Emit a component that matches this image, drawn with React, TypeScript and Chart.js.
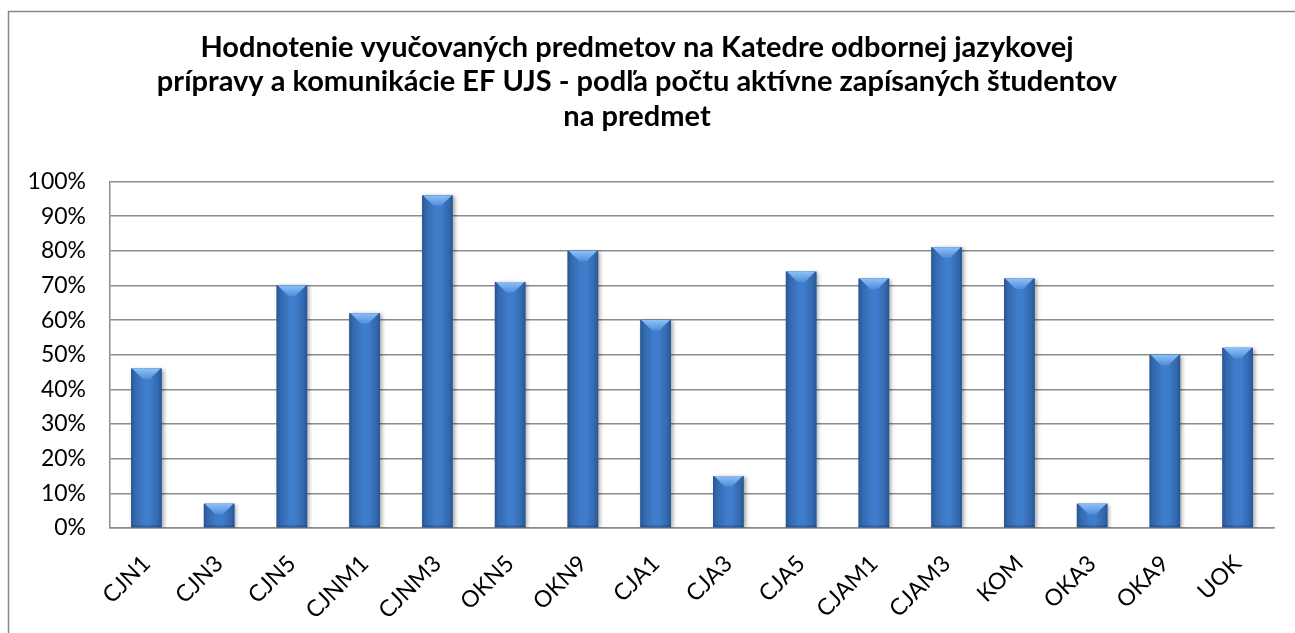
import React, { useEffect, useRef } from "react";
import { Chart, registerables } from "chart.js";

Chart.register(...registerables);

const categories = ["CJN1", "CJN3", "CJN5", "CJNM1", "CJNM3", "OKN5", "OKN9", "CJA1", "CJA3", "CJA5", "CJAM1", "CJAM3", "KOM", "OKA3", "OKA9", "UOK"];
const values = [46, 7, 70, 62, 96, 71, 80, 60, 15, 74, 72, 81, 72, 7, 50, 52];
const titleLines = [
  "Hodnotenie vyučovaných predmetov na Katedre odbornej jazykovej",
  "prípravy a komunikácie EF UJS - podľa počtu aktívne zapísaných študentov",
  "na predmet",
];
const yTicks = [0, 10, 20, 30, 40, 50, 60, 70, 80, 90, 100];

const FONT = "Lato, 'Open Sans', sans-serif";

const framePlugin = {
  id: "frame",
  beforeDraw(chart: any) {
    const ctx = chart.ctx;
    ctx.save();
    ctx.fillStyle = "#ffffff";
    ctx.fillRect(0, 0, chart.width, chart.height);
    ctx.strokeStyle = "#878787";
    ctx.lineWidth = 1.5;
    ctx.beginPath();
    ctx.moveTo(8.5, chart.height + 2);
    ctx.lineTo(8.5, 11.5);
    ctx.lineTo(chart.width + 2, 11.5);
    ctx.stroke();
    ctx.restore();
  },
};

const bevelPlugin = {
  id: "bevel",
  beforeDatasetDraw(chart: any) {
    const ctx = chart.ctx;
    ctx.save();
    ctx.shadowColor = "rgba(0,0,0,0.35)";
    ctx.shadowBlur = 4;
    ctx.shadowOffsetX = 2;
    ctx.shadowOffsetY = 1;
  },
  afterDatasetDraw(chart: any, args: any) {
    const ctx = chart.ctx;
    ctx.restore();
    const meta = chart.getDatasetMeta(args.index);
    ctx.save();
    meta.data.forEach((bar: any) => {
      const w = bar.width;
      const left = bar.x - w / 2;
      const right = bar.x + w / 2;
      const top = bar.y;
      const bottom = bar.base;
      const g = ctx.createLinearGradient(left, 0, right, 0);
      g.addColorStop(0, "#28558f");
      g.addColorStop(0.12, "#3368ae");
      g.addColorStop(0.45, "#3f7dcc");
      g.addColorStop(0.6, "#3f7dcc");
      g.addColorStop(0.88, "#3368ae");
      g.addColorStop(1, "#28558f");
      ctx.fillStyle = g;
      ctx.fillRect(left, top, w, bottom - top);
      const depth = Math.min(w * 0.34, bottom - top);
      const tg = ctx.createLinearGradient(0, top, 0, top + depth);
      tg.addColorStop(0, "#8ec0f7");
      tg.addColorStop(1, "#4f8edc");
      ctx.fillStyle = tg;
      ctx.beginPath();
      ctx.moveTo(left + 1, top);
      ctx.lineTo(right - 1, top);
      ctx.lineTo(bar.x + w * 0.12, top + depth);
      ctx.lineTo(bar.x - w * 0.12, top + depth);
      ctx.closePath();
      ctx.fill();
      ctx.fillStyle = "rgba(30,60,110,0.35)";
      ctx.fillRect(left, bottom - 2, w, 2);
    });
    ctx.restore();
  },
};

export default function App() {
  const ref = useRef<HTMLCanvasElement>(null);
  useEffect(() => {
    document.body.style.margin = "0";
    document.body.style.overflow = "hidden";
    const chart = new Chart(ref.current as HTMLCanvasElement, {
      type: "bar",
      data: {
        labels: categories,
        datasets: [
          {
            data: values,
            backgroundColor: "#3a74c2",
            borderWidth: 0,
            barPercentage: 0.42,
            categoryPercentage: 1.0,
          },
        ],
      },
      options: {
        animation: false,
        responsive: false,
        layout: { padding: { left: 0, right: 21, top: 30, bottom: 0 } },
        plugins: {
          legend: { display: false },
          tooltip: { enabled: false },
          title: {
            display: true,
            text: titleLines,
            color: "#000000",
            font: { family: FONT, size: 29, weight: "bold", lineHeight: 1.19 },
            padding: { top: 0, bottom: 48 },
          },
        },
        scales: {
          x: {
            grid: { display: false, drawTicks: false },
            border: { display: true, color: "#8c8c8c", width: 1.5 },
            ticks: {
              color: "#000000",
              font: { family: FONT, size: 23 },
              maxRotation: 45,
              minRotation: 45,
              padding: 22,
              autoSkip: false,
            },
            afterFit: (s: any) => {
              s.height = 105;
            },
          },
          y: {
            min: 0,
            max: 100,
            afterBuildTicks: (s: any) => {
              s.ticks = yTicks.map((v) => ({ value: v }));
            },
            grid: { color: "#8c8c8c", lineWidth: 1.5, drawTicks: false },
            border: { display: true, color: "#8c8c8c", width: 1.5 },
            ticks: {
              color: "#000000",
              font: { family: FONT, size: 23 },
              padding: 24,
              callback: (v: any) => `${v}%`,
            },
            afterFit: (s: any) => {
              s.width = 110;
            },
          },
        },
      },
      plugins: [framePlugin, bevelPlugin],
    });
    return () => chart.destroy();
  }, []);
  return (
    <canvas
      ref={ref}
      width={1295}
      height={633}
      style={{ position: "fixed", left: 0, top: 0, width: 1295, height: 633 }}
    />
  );
}
